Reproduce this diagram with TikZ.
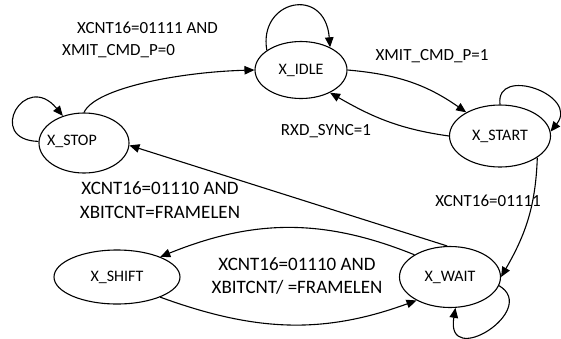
\documentclass[tikz,border=0pt]{standalone}
\usepackage{fontspec}
\setmainfont{Carlito}
\usetikzlibrary{shapes.geometric, arrows.meta, positioning}

\begin{document}
\begin{tikzpicture}[x=1pt, y=-1pt,
    state/.style={ellipse, draw, line width=1.1pt, inner sep=0pt, font=\fontsize{16}{18}\selectfont},
    trans/.style={-{Triangle[length=10pt, width=8.5pt]}, line width=1.1pt},
    cond/.style={font=\fontsize{17}{21.5}\selectfont, align=left},
    bigcond/.style={font=\fontsize{19}{23.5}\selectfont, align=center}]
    \useasboundingbox (0,0) rectangle (561,338);

    % States
    \node[state, minimum width=92pt, minimum height=57pt] (idle) at (301,70) {X\_IDLE};
    \node[state, minimum width=101pt, minimum height=62pt] (start) at (500,136) {X\_START};
    \node[state, minimum width=90pt, minimum height=60pt,
        label={[font=\fontsize{16}{18}\selectfont, xshift=-12pt, yshift=2pt]center:X\_STOP}] (stop) at (84,143) {};
    \node[state, minimum width=126pt, minimum height=54pt] (shift) at (117,277) {X\_SHIFT};
    \node[state, minimum width=101pt, minimum height=61pt] (wait) at (450,277) {X\_WAIT};

    % Self loops
    \draw[trans] (stop.178) .. controls (-15,140) and (25,70) .. (stop.128);
    \draw[trans] (idle.150) .. controls (258,0) and (325,-15) .. (idle.38);
    \draw[trans] (start.north) .. controls (495,65) and (580,95) .. (start.5);
    \draw[trans] (wait.-10) .. controls (540,310) and (445,370) .. (wait.-80);

    % Transitions
    \draw[trans] (stop.north) .. controls (95,88) and (180,72) .. (idle.west);
    \draw[trans] (idle.east) to[out=-5, in=145] (start.145);
    \draw[trans] (start.west) to[out=172, in=-30] (idle.-38);
    \draw[trans] (start.-30) to[out=-92, in=60] (wait.east);
    \draw[trans] (wait.95) -- (stop.-3);
    \draw[trans] (wait.148) to[out=158, in=22] (shift.25);
    \draw[trans] (shift.-25) to[out=-20, in=-160] (wait.-145);

    % Labels
    \node[cond] (c1) at (140,40) {\hspace*{15pt}XCNT16=01111 AND\\XMIT\_CMD\_P=0};
    \node[cond] (c2) at (432,56) {XMIT\_CMD\_P=1};
    \node[cond] (c3) at (326,131) {RXD\_SYNC=1};
    \node[cond] (c4) at (488,201) {XCNT16=01111};
    \node[bigcond] (c5) at (160,200) {XCNT16=01110 AND\\XBITCNT=FRAMELEN};
    \node[bigcond] (c6) at (297,276) {XCNT16=01110 AND\\XBITCNT/ =FRAMELEN};

\end{tikzpicture}
\end{document}
